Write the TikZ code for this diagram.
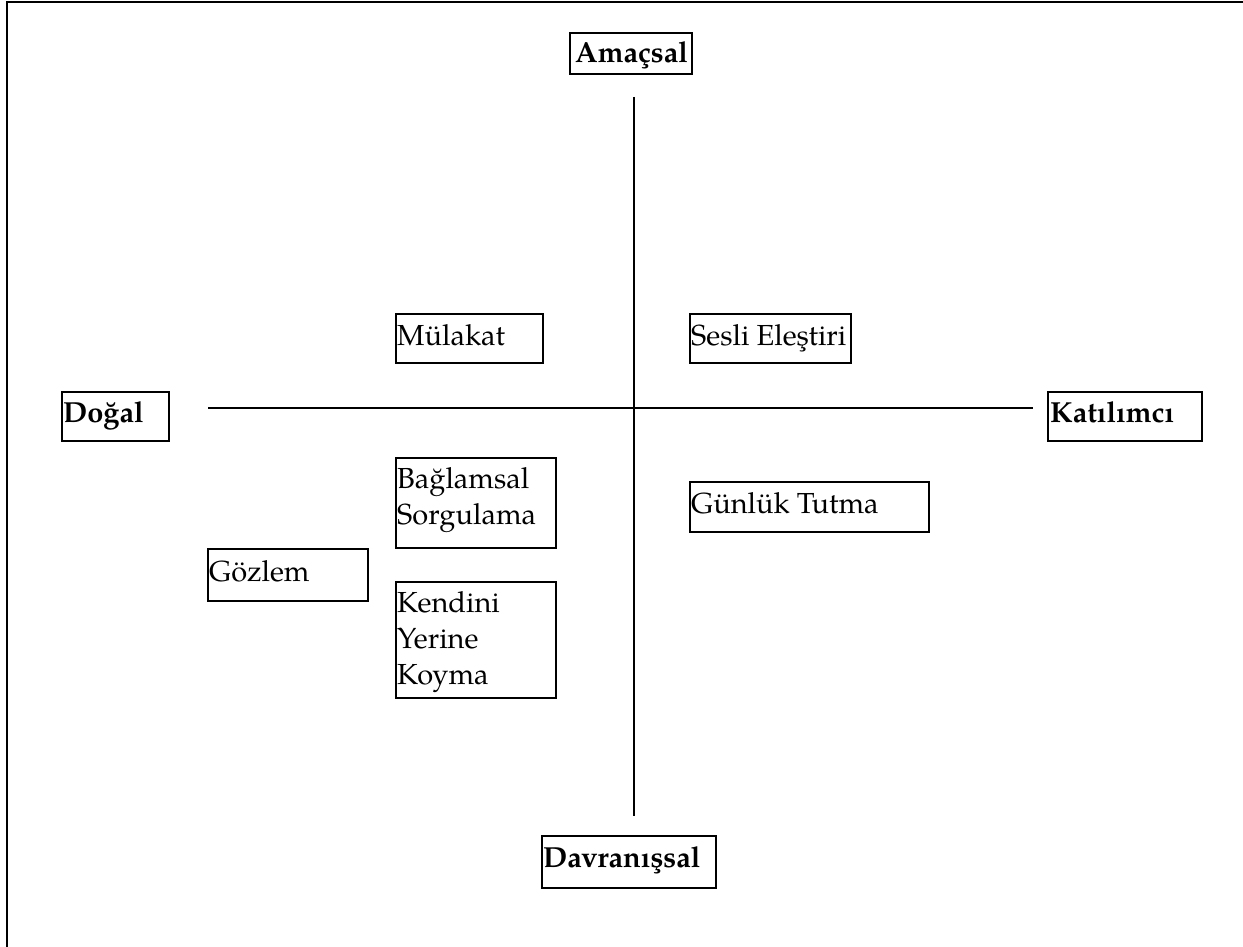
\documentclass[tikz,border=0pt]{standalone}
\usepackage{fontspec}
\setmainfont{texgyrepagella-regular.otf}[BoldFont=texgyrepagella-bold.otf]
\begin{document}
\begin{tikzpicture}[x=1pt,y=-1pt,
  box/.style={draw, line width=1.6pt, inner sep=0pt, anchor=north west},
  lbl/.style={inner sep=0pt, anchor=base west, font=\fontsize{29}{36}\selectfont},
  blbl/.style={lbl, font=\fontsize{29}{36}\selectfont\bfseries},
  axis/.style={line width=1.8pt}]
\useasboundingbox (0,0) rectangle (1243,947);
% frame (top and left only)
\draw[line width=2pt] (7,947) -- (7,2) -- (1243,2);
% axes
\coordinate (vtop) at (634,97);
\coordinate (vbot) at (634,816);
\coordinate (hl) at (208,408);
\coordinate (hr) at (1033,408);
\draw[axis] (vtop) -- (vbot);
\draw[axis] (hl) -- (hr);
% pole labels
\node[box, minimum width=122, minimum height=41] (ama) at (569,32) {};
\node[blbl, xshift=6pt, yshift=-31pt] (ama-t) at (ama.north west) {Amaçsal};
\node[box, minimum width=107, minimum height=49] (dog) at (61,391) {};
\node[blbl, xshift=2pt, yshift=-31pt] (dog-t) at (dog.north west) {Doğal};
\node[box, minimum width=154, minimum height=49] (kat) at (1047,391) {};
\node[blbl, xshift=3pt, yshift=-31pt] (kat-t) at (kat.north west) {Katılımcı};
\node[box, minimum width=174, minimum height=52] (dav) at (541,835) {};
\node[blbl, xshift=2pt, yshift=-32pt] (dav-t) at (dav.north west) {Davranışsal};
% methods
\node[box, minimum width=147, minimum height=49] (mul) at (395,313) {};
\node[lbl, xshift=2pt, yshift=-32pt] (mul-t) at (mul.north west) {Mülakat};
\node[box, minimum width=161, minimum height=49] (ses) at (689,313) {};
\node[lbl, xshift=2pt, yshift=-32pt] (ses-t) at (ses.north west) {Sesli Eleştiri};
\node[box, minimum width=160, minimum height=90] (bag) at (395,457) {};
\node[lbl, xshift=2pt, yshift=-31pt] (bag-t) at (bag.north west) {\begin{tabular}[t]{@{}l@{}}Bağlamsal\\Sorgulama\end{tabular}};
\node[box, minimum width=160, minimum height=116] (ken) at (395,581) {};
\node[lbl, xshift=2pt, yshift=-31pt] (ken-t) at (ken.north west) {\begin{tabular}[t]{@{}l@{}}Kendini\\Yerine\\Koyma\end{tabular}};
\node[box, minimum width=160, minimum height=52] (goz) at (207,548) {};
\node[lbl, xshift=2pt, yshift=-33pt] (goz-t) at (goz.north west) {Gözlem};
\node[box, minimum width=239, minimum height=50] (gun) at (689,481) {};
\node[lbl, xshift=2pt, yshift=-32pt] (gun-t) at (gun.north west) {Günlük Tutma};
\end{tikzpicture}
\end{document}
